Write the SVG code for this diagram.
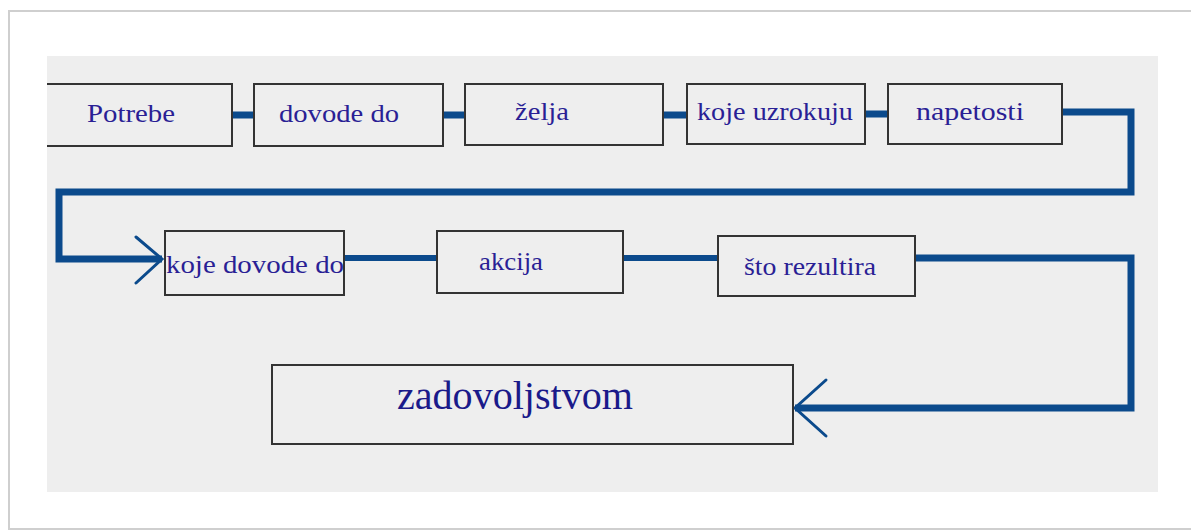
<svg xmlns="http://www.w3.org/2000/svg" width="1191" height="530" viewBox="0 0 1191 530">
<defs>
<style>
.box{fill:#eeeeee;stroke:#333333;stroke-width:2}
.lbl{font-family:"Liberation Serif","Times New Roman",serif;font-size:25px;fill:#2a1f95;text-anchor:middle}
.big{font-family:"Liberation Serif","Times New Roman",serif;font-size:40px;fill:#1a1a8a;text-anchor:middle}
.con{fill:none;stroke:#0b4a8c;stroke-width:7;stroke-linejoin:miter}
.arw{fill:none;stroke:#0b4a8c;stroke-width:3;stroke-linecap:round}
</style>
</defs>
<rect x="0" y="0" width="1191" height="530" fill="#ffffff"/>
<rect x="9" y="11" width="1190" height="518" fill="#ffffff" stroke="#cfcfcf" stroke-width="2"/>
<rect x="47" y="56" width="1111" height="436" fill="#eeeeee"/>

<g id="connectors">
<path class="con" d="M232 115 H254"/>
<path class="con" d="M443 115 H465"/>
<path class="con" d="M663 115 H687"/>
<path class="con" d="M865 114 H888"/>
<path class="con" d="M1062 112 H1131 V192 H59 V259 H162"/>
<path class="arw" d="M136 237 L162 259 L136 283"/>
<path class="con" d="M344 258 H437" style="stroke-width:6"/>
<path class="con" d="M623 258 H718" style="stroke-width:6"/>
<path class="con" d="M915 258 H1131 V408 H795"/>
<path class="arw" d="M826 380 L795 408 L826 436"/>
</g>

<g id="n1">
<path class="box" d="M47 84 H232 V146 H47"/>
<text class="lbl" x="131" y="122" textLength="88" lengthAdjust="spacingAndGlyphs">Potrebe</text>
</g>
<g id="n2">
<rect class="box" x="254" y="84" width="189" height="62"/>
<text class="lbl" x="339" y="122" textLength="120" lengthAdjust="spacingAndGlyphs">dovode do</text>
</g>
<g id="n3">
<rect class="box" x="465" y="84" width="198" height="61"/>
<text class="lbl" x="542" y="120" textLength="54" lengthAdjust="spacingAndGlyphs">želja</text>
</g>
<g id="n4">
<rect class="box" x="687" y="84" width="178" height="60"/>
<text class="lbl" x="775" y="120" textLength="156" lengthAdjust="spacingAndGlyphs">koje uzrokuju</text>
</g>
<g id="n5">
<rect class="box" x="888" y="84" width="174" height="60"/>
<text class="lbl" x="970" y="120" textLength="108" lengthAdjust="spacingAndGlyphs">napetosti</text>
</g>
<g id="n6">
<rect class="box" x="165" y="231" width="179" height="64"/>
<text class="lbl" x="255" y="273" textLength="178" lengthAdjust="spacingAndGlyphs">koje dovode do</text>
</g>
<g id="n7">
<rect class="box" x="437" y="231" width="186" height="62"/>
<text class="lbl" x="511" y="270" textLength="64" lengthAdjust="spacingAndGlyphs">akcija</text>
</g>
<g id="n8">
<rect class="box" x="718" y="236" width="197" height="60"/>
<text class="lbl" x="810" y="275" textLength="132" lengthAdjust="spacingAndGlyphs">što rezultira</text>
</g>
<g id="n9">
<rect class="box" x="272" y="365" width="521" height="79"/>
<text class="big" x="515" y="409" textLength="236" lengthAdjust="spacingAndGlyphs">zadovoljstvom</text>
</g>
</svg>
